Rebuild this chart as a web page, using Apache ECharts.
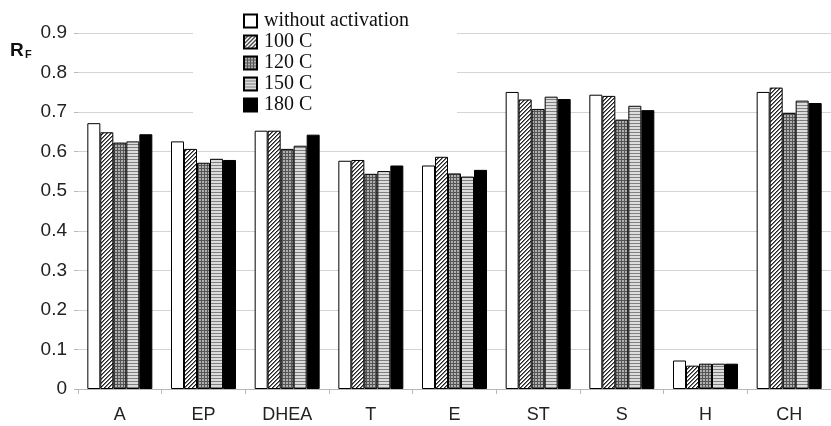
<!DOCTYPE html>
<html>
<head>
<meta charset="utf-8">
<script src="https://cdn.jsdelivr.net/npm/echarts@6/dist/echarts.min.js"></script>
<style>
html,body{margin:0;padding:0;background:#fff;}
#chart{width:831px;height:426px;}
</style>
</head>
<body>
<div id="chart"></div>
<script>
const categories = ['A', 'EP', 'DHEA', 'T', 'E', 'ST', 'S', 'H', 'CH'];
const seriesNames = ['without activation', '100 C', '120 C', '150 C', '180 C'];
const withoutActivation = [0.672, 0.626, 0.653, 0.577, 0.565, 0.751, 0.744, 0.072, 0.751];
const c100 = [0.649, 0.607, 0.653, 0.579, 0.587, 0.732, 0.741, 0.059, 0.762];
const c120 = [0.623, 0.572, 0.607, 0.544, 0.545, 0.708, 0.681, 0.064, 0.698];
const c150 = [0.626, 0.582, 0.615, 0.551, 0.537, 0.739, 0.716, 0.064, 0.729];
const c180 = [0.644, 0.579, 0.643, 0.565, 0.554, 0.733, 0.705, 0.064, 0.723];
const yTicks = { min: 0, max: 0.9, interval: 0.1 };

function tile(w, h, fn) {
  const c = document.createElement('canvas');
  c.width = w; c.height = h;
  const ctx = c.getContext('2d');
  for (let y = 0; y < h; y++) {
    for (let x = 0; x < w; x++) {
      ctx.fillStyle = fn(x, y);
      ctx.fillRect(x, y, 1, 1);
    }
  }
  return c;
}
const hatch = tile(4, 4, (x, y) => {
  const k = (x + y) % 4;
  return k === 3 ? '#222' : (k === 0 ? '#777' : '#fff');
});
const gridPat = tile(3, 3, (x, y) => (x === 0 || y === 0) ? '#555' : '#b0b0b0');
const stripes = tile(3, 3, (x, y) => y === 0 ? '#808080' : '#dcdcdc');

const fills = [
  '#ffffff',
  { image: hatch, repeat: 'repeat' },
  { image: gridPat, repeat: 'repeat' },
  { image: stripes, repeat: 'repeat' },
  '#000000'
];
const dataSets = [withoutActivation, c100, c120, c150, c180];

const chart = echarts.init(document.getElementById('chart'), null, { renderer: 'canvas' });
chart.setOption({
  animation: false,
  backgroundColor: '#ffffff',
  grid: { left: 78, top: 33, width: 761, height: 356, containLabel: false },
  legend: {
    orient: 'vertical',
    left: 193,
    top: 5,
    padding: [6, 48, 5, 50],
    backgroundColor: '#ffffff',
    itemWidth: 13,
    itemHeight: 13,
    itemGap: 1,
    icon: 'rect',
    data: seriesNames,
    textStyle: { fontFamily: 'Liberation Serif', fontSize: 20, lineHeight: 20, color: '#111', padding: [0, 0, 0, 2] }
  },
  xAxis: {
    type: 'category',
    data: categories,
    boundaryGap: true,
    axisLine: { show: true, lineStyle: { color: '#b8b8b8', width: 1 } },
    axisTick: { show: true, length: 5, lineStyle: { color: '#b8b8b8' } },
    axisLabel: { fontFamily: 'Liberation Sans', fontSize: 18, color: '#222', margin: 17 },
    splitLine: { show: false }
  },
  yAxis: {
    type: 'value',
    min: yTicks.min,
    max: yTicks.max,
    interval: yTicks.interval,
    axisLine: { show: false },
    axisTick: { show: true, length: 4, lineStyle: { color: '#b8b8b8' } },
    axisLabel: {
      fontFamily: 'Liberation Sans', fontSize: 19, color: '#222', margin: 11,
      formatter: v => (Math.round(v * 10) / 10).toString()
    },
    splitLine: { show: true, lineStyle: { color: '#d4d4d4', width: 1 } }
  },
  graphic: [
    { type: 'text', left: 10, top: 41, style: { text: 'R', font: 'bold 19px "Liberation Sans"', fill: '#111' } },
    { type: 'text', left: 25, top: 49, style: { text: 'F', font: 'bold 11px "Liberation Sans"', fill: '#111' } }
  ],
  series: dataSets.map((d, i) => ({
    name: seriesNames[i],
    type: 'bar',
    data: d,
    barWidth: 13,
    barGap: '0%',
    itemStyle: { color: fills[i], borderColor: '#000', borderWidth: 1 }
  }))
});
</script>
</body>
</html>
